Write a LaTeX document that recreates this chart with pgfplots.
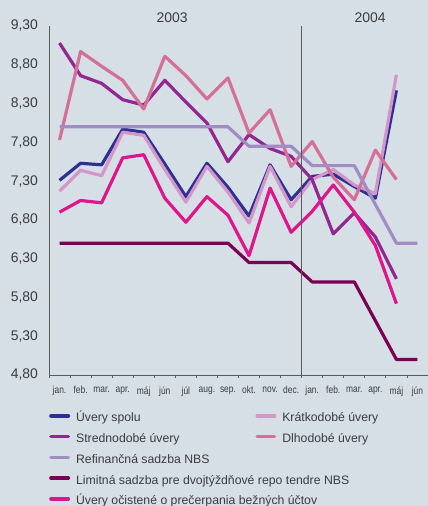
\documentclass[border=0pt]{standalone}
\usepackage{fontspec}
\setmainfont{Liberation Sans}
\newfontfamily\narrowfont[FakeStretch=0.82]{Liberation Sans}
\usepackage{pgfplots}
\pgfplotsset{compat=1.18}
\definecolor{bg}{RGB}{214,222,230}
\definecolor{cSpolu}{RGB}{46,49,146}
\definecolor{cKrat}{RGB}{212,150,200}
\definecolor{cStred}{RGB}{146,39,143}
\definecolor{cDlho}{RGB}{212,112,152}
\definecolor{cRef}{RGB}{162,140,198}
\definecolor{cLim}{RGB}{122,0,84}
\definecolor{cOcis}{RGB}{222,22,140}
\definecolor{txt}{RGB}{60,60,60}
\definecolor{axc}{RGB}{90,90,90}
\newcommand{\lA}[1]{\hspace{6pt}\makebox[180pt][l]{#1}}
\newcommand{\lB}[1]{\hspace{6pt}#1}
\begin{document}
\begin{tikzpicture}
\fill[bg, use as bounding box] (0,0) rectangle (428bp,-506bp);
\begin{axis}[
  at={(49bp,-26bp)}, anchor=north west,
  scale only axis, width=379bp, height=349bp,
  xmin=-0.5, xmax=17.5, ymin=4.8, ymax=9.3,
  clip=false,
  axis x line=bottom, axis y line=left,
  axis line style={-, axc, line width=1pt},
  xtick={-0.5,0.5,...,17.5},
  x tick label as interval,
  xticklabels={jan.,feb.,mar.,apr.,máj,jún,júl,aug.,sep.,okt.,nov.,dec.,jan.,feb.,mar.,apr.,máj,jún},
  xtick align=outside,
  major tick length=3pt,
  xtick style={axc, line width=0.8pt},
  xticklabel style={font=\narrowfont\fontsize{10.3}{11}\selectfont, text=txt, yshift=-5bp},
  ytick={4.8,5.3,5.8,6.3,6.8,7.3,7.8,8.3,8.8,9.3},
  yticklabels={{4,80},{5,30},{5,80},{6,30},{6,80},{7,30},{7,80},{8,30},{8,80},{9,30}},
  ytick style={draw=none},
  yticklabel style={font=\fontsize{14}{16}\selectfont, text=txt, xshift=-6bp},
  every axis plot/.append style={line width=3.2pt, line join=round},
  legend columns=2,
  legend cell align=left,
  legend style={draw=none, fill=none, at={(axis description cs:0,-0.108)}, anchor=north west,
    inner sep=0pt, row sep=8.8pt, column sep=0pt,
    font=\fontsize{12.3}{14}\selectfont, text=txt,
    nodes={inner sep=0pt, text height=9pt, text depth=3pt}},
  legend image code/.code={\draw[#1, line width=3.5pt, line cap=round] (1.75pt,0.3em) -- (19.25pt,0.3em);},
]
\addplot[cSpolu] coordinates {(0,7.31)(1,7.53)(2,7.51)(3,7.97)(4,7.93)(5,7.52)(6,7.10)(7,7.53)(8,7.22)(9,6.85)(10,7.51)(11,7.06)(12,7.36)(13,7.39)(14,7.23)(15,7.08)(16,8.47)};
\addlegendentry{\lA{Úvery spolu}}
\addplot[cKrat] coordinates {(0,7.17)(1,7.44)(2,7.37)(3,7.93)(4,7.89)(5,7.45)(6,7.03)(7,7.49)(8,7.16)(9,6.76)(10,7.49)(11,6.97)(12,7.32)(13,7.45)(14,7.25)(15,7.14)(16,8.67)};
\addlegendentry{\lB{Krátkodobé úvery}}
\addplot[cStred] coordinates {(0,9.08)(1,8.66)(2,8.56)(3,8.35)(4,8.28)(5,8.60)(6,8.32)(7,8.05)(8,7.55)(9,7.90)(10,7.72)(11,7.62)(12,7.32)(13,6.62)(14,6.89)(15,6.58)(16,6.04)};
\addlegendentry{\lA{Strednodobé úvery}}
\addplot[cDlho] coordinates {(0,7.83)(1,8.97)(2,8.78)(3,8.60)(4,8.23)(5,8.91)(6,8.66)(7,8.36)(8,8.63)(9,7.92)(10,8.22)(11,7.49)(12,7.81)(13,7.35)(14,7.06)(15,7.70)(16,7.32)};
\addlegendentry{\lB{Dlhodobé úvery}}
\addplot[cRef] coordinates {(0,8.00)(1,8.00)(2,8.00)(3,8.00)(4,8.00)(5,8.00)(6,8.00)(7,8.00)(8,8.00)(9,7.75)(10,7.75)(11,7.75)(12,7.50)(13,7.50)(14,7.50)(15,7.00)(16,6.50)(17,6.50)};
\addlegendentry{\lA{Refinančná sadzba NBS}}
\addlegendimage{empty legend}
\addlegendentry{}
\addplot[cLim] coordinates {(0,6.50)(1,6.50)(2,6.50)(3,6.50)(4,6.50)(5,6.50)(6,6.50)(7,6.50)(8,6.50)(9,6.25)(10,6.25)(11,6.25)(12,6.00)(13,6.00)(14,6.00)(15,5.50)(16,5.00)(17,5.00)};
\addlegendentry{\lA{Limitná sadzba pre dvojtýždňové repo tendre NBS}}
\addlegendimage{empty legend}
\addlegendentry{}
\addplot[cOcis] coordinates {(0,6.90)(1,7.05)(2,7.02)(3,7.60)(4,7.64)(5,7.08)(6,6.77)(7,7.10)(8,6.86)(9,6.34)(10,7.21)(11,6.64)(12,6.91)(13,7.25)(14,6.90)(15,6.47)(16,5.72)};
\addlegendentry{\lA{Úvery očistené o prečerpania bežných účtov}}
\draw[axc, line width=0.8pt] (axis cs:11.5,4.8) -- (axis cs:11.5,9.3);
\node[font=\fontsize{14}{16}\selectfont, text=txt] at (axis cs:5.35,9.41) {2003};
\node[font=\fontsize{14}{16}\selectfont, text=txt] at (axis cs:14.75,9.41) {2004};
\end{axis}
\end{tikzpicture}
\end{document}
